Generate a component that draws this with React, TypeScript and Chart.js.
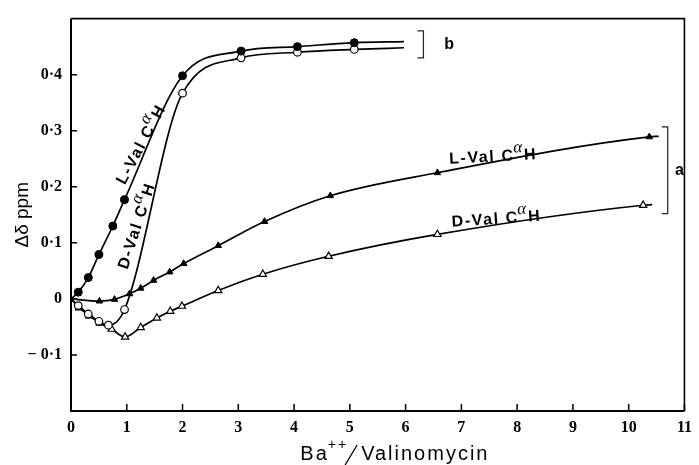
import { useEffect, useRef } from 'react';
import { Chart, registerables } from 'chart.js';

Chart.register(...registerables);

// ---- axis ticks ----
const xTickValues = [0, 1, 2, 3, 4, 5, 6, 7, 8, 9, 10, 11];
const xTickLabels = ['0', '1', '2', '3', '4', '5', '6', '7', '8', '9', '10', '11'];
const yTickValues = [-0.1, 0, 0.1, 0.2, 0.3, 0.4];
const yTickLabels = ['\u2212 0·1', '0', '0·1', '0·2', '0·3', '0·4'];

const yTitle = 'Δδ ppm';
const xTitleParts = ['Ba', '++', '/', 'Valinomycin'];

// ---- series (b: filled / open circles, a: filled / open triangles) ----
// first point = common origin, last point = end of drawn curve (no marker)
const lValBX = [0, 0.13, 0.31, 0.5, 0.75, 0.96, 2.0, 3.05, 4.06, 5.08, 5.97];
const lValBY = [0, 0.012, 0.038, 0.079, 0.13, 0.177, 0.398, 0.442, 0.45, 0.457, 0.459];

const dValBX = [0, 0.13, 0.31, 0.5, 0.67, 0.96, 2.0, 3.05, 4.06, 5.08, 5.97];
const dValBY = [0, -0.012, -0.027, -0.04, -0.047, -0.019, 0.367, 0.43, 0.44, 0.445, 0.448];

const lValAX = [0, 0.51, 0.78, 1.05, 1.25, 1.48, 1.77, 2.02, 2.64, 3.47, 4.65, 6.57, 10.37, 10.54];
const lValAY = [0, -0.004, -0.001, 0.009, 0.019, 0.033, 0.048, 0.063, 0.095, 0.138, 0.184, 0.225, 0.289, 0.29];

const dValAX = [0, 0.15, 0.33, 0.52, 0.73, 0.97, 1.25, 1.54, 1.78, 1.99, 2.64, 3.44, 4.62, 6.57, 10.26, 10.42];
const dValAY = [0, -0.016, -0.03, -0.043, -0.054, -0.068, -0.051, -0.034, -0.022, -0.013, 0.015, 0.044, 0.076, 0.115, 0.167, 0.168];

// ---- curve labels (data coordinates of label centre, angle in degrees) ----
const labelNames = ['L-Val', 'D-Val', 'L-Val', 'D-Val'];
const labelX = [1.27, 1.19, 7.58, 7.64];
const labelY = [0.276, 0.131, 0.253, 0.142];
const labelAngle = [-62, -72, -3, -4];

// ---- brackets ----
const bracketNames = ['a', 'b'];
const bracketX = [10.7, 6.32];
const bracketYTop = [0.307, 0.478];
const bracketYBottom = [0.152, 0.43];
const bracketLetterX = [10.91, 6.78];

const toPts = (xs: number[], ys: number[]) => xs.map((x, i) => ({ x, y: ys[i] }));

const markerRadius = (r: number) => (ctx: any) =>
  ctx.dataIndex === 0 || ctx.dataIndex === ctx.dataset.data.length - 1 ? 0 : r;

function drawCurveLabel(ctx: CanvasRenderingContext2D, prefix: string, cx: number, cy: number, angleDeg: number) {
  ctx.save();
  ctx.translate(cx, cy);
  ctx.rotate((angleDeg * Math.PI) / 180);
  const main = 'bold 16px "Liberation Sans", Arial, sans-serif';
  const sup = 'italic 17px "Liberation Serif", serif';
  (ctx as any).letterSpacing = '1.6px';
  ctx.font = main;
  const t1 = prefix + ' C';
  const w1 = ctx.measureText(t1).width;
  const wH = ctx.measureText('H').width;
  ctx.font = sup;
  const wa = ctx.measureText('α').width;
  const total = w1 + wa + wH;
  const x0 = -total / 2;
  ctx.fillStyle = '#000';
  ctx.textAlign = 'left';
  ctx.textBaseline = 'middle';
  ctx.font = main;
  ctx.fillText(t1, x0, 0);
  ctx.font = sup;
  ctx.fillText('α', x0 + w1 - 1, -8);
  ctx.font = main;
  ctx.fillText('H', x0 + w1 + wa - 1, 0);
  ctx.restore();
}

const decorPlugin = {
  id: 'decor',
  afterDraw(chart: any) {
    const { ctx, chartArea: a, scales } = chart;
    const xs = scales.x;
    const ys = scales.y;
    ctx.save();
    // frame
    ctx.strokeStyle = '#000';
    ctx.lineWidth = 1.6;
    ctx.beginPath();
    ctx.moveTo(a.left, a.top);
    ctx.lineTo(a.right, a.top);
    ctx.lineTo(a.right, a.bottom);
    ctx.stroke();
    ctx.lineWidth = 2;
    ctx.beginPath();
    ctx.moveTo(a.left, a.top);
    ctx.lineTo(a.left, a.bottom);
    ctx.lineTo(a.right, a.bottom);
    ctx.stroke();
    // inward ticks
    ctx.lineWidth = 1.5;
    ctx.beginPath();
    xTickValues.forEach((v) => {
      const px = xs.getPixelForValue(v);
      ctx.moveTo(px, a.bottom);
      ctx.lineTo(px, a.bottom - 7);
    });
    yTickValues.forEach((v) => {
      const py = ys.getPixelForValue(v);
      ctx.moveTo(a.left, py);
      ctx.lineTo(a.left + 6, py);
    });
    ctx.stroke();

    // curve labels
    labelNames.forEach((n, i) => {
      drawCurveLabel(ctx, n, xs.getPixelForValue(labelX[i]), ys.getPixelForValue(labelY[i]), labelAngle[i]);
    });

    // brackets
    ctx.lineWidth = 1.2;
    ctx.strokeStyle = '#222';
    bracketNames.forEach((n, i) => {
      const bx = xs.getPixelForValue(bracketX[i]);
      const t = ys.getPixelForValue(bracketYTop[i]);
      const b = ys.getPixelForValue(bracketYBottom[i]);
      ctx.beginPath();
      ctx.moveTo(bx - 6, t);
      ctx.lineTo(bx, t);
      ctx.lineTo(bx, b);
      ctx.lineTo(bx - 6, b);
      ctx.stroke();
      ctx.fillStyle = '#000';
      ctx.font = 'bold 16px "Liberation Sans", Arial, sans-serif';
      ctx.textAlign = 'center';
      ctx.textBaseline = 'middle';
      ctx.fillText(n, xs.getPixelForValue(bracketLetterX[i]), (t + b) / 2);
    });

    // x axis title: Ba++/Valinomycin
    const base = a.bottom + 49;
    const mainF = '20px "Liberation Sans", Arial, sans-serif';
    const supF = '14px "Liberation Sans", Arial, sans-serif';
    ctx.letterSpacing = '2px';
    ctx.font = mainF;
    const wBa = ctx.measureText(xTitleParts[0]).width;
    const wVal = ctx.measureText(xTitleParts[3]).width;
    ctx.font = supF;
    const wPP = ctx.measureText(xTitleParts[1]).width;
    const wSlash = 12;
    const total = wBa + wPP + wSlash + wVal;
    let x0 = a.left + (a.right - a.left) * 0.528 - total / 2;
    ctx.fillStyle = '#000';
    ctx.textAlign = 'left';
    ctx.textBaseline = 'alphabetic';
    ctx.font = mainF;
    ctx.fillText(xTitleParts[0], x0, base);
    x0 += wBa;
    ctx.font = supF;
    ctx.fillText(xTitleParts[1], x0 - 1, base - 11);
    x0 += wPP - 4;
    ctx.lineWidth = 1.3;
    ctx.strokeStyle = '#000';
    ctx.beginPath();
    ctx.moveTo(x0, base + 5);
    ctx.lineTo(x0 + 12, base - 15);
    ctx.stroke();
    x0 += wSlash + 4;
    ctx.font = mainF;
    ctx.fillText(xTitleParts[3], x0, base);
    ctx.restore();
  },
};

export default function App() {
  const canvasRef = useRef<HTMLCanvasElement | null>(null);

  useEffect(() => {
    document.body.style.margin = '0';
    const canvas = canvasRef.current;
    if (!canvas) return;
    const tickFont = { family: '"Liberation Serif", serif', size: 16, weight: 'bold' as const };
    const chart = new Chart(canvas, {
      type: 'line',
      data: {
        datasets: [
          {
            label: 'L-Val CαH (b)',
            data: toPts(lValBX, lValBY),
            borderColor: '#000',
            borderWidth: 1.7,
            pointStyle: 'circle',
            pointRadius: markerRadius(4),
            pointBackgroundColor: '#000',
            pointBorderColor: '#000',
            pointBorderWidth: 1,
            cubicInterpolationMode: 'monotone',
          },
          {
            label: 'D-Val CαH (b)',
            data: toPts(dValBX, dValBY),
            borderColor: '#000',
            borderWidth: 1.7,
            pointStyle: 'circle',
            pointRadius: markerRadius(3.8),
            pointBackgroundColor: '#fff',
            pointBorderColor: '#000',
            pointBorderWidth: 1.2,
            cubicInterpolationMode: 'monotone',
          },
          {
            label: 'L-Val CαH (a)',
            data: toPts(lValAX, lValAY),
            borderColor: '#000',
            borderWidth: 1.7,
            pointStyle: 'triangle',
            pointRadius: markerRadius(3.8),
            pointBackgroundColor: '#000',
            pointBorderColor: '#000',
            pointBorderWidth: 1,
            cubicInterpolationMode: 'monotone',
          },
          {
            label: 'D-Val CαH (a)',
            data: toPts(dValAX, dValAY),
            borderColor: '#000',
            borderWidth: 1.7,
            pointStyle: 'triangle',
            pointRadius: markerRadius(4.2),
            pointBackgroundColor: '#fff',
            pointBorderColor: '#000',
            pointBorderWidth: 1.2,
            cubicInterpolationMode: 'monotone',
          },
        ],
      },
      options: {
        responsive: false,
        animation: false,
        events: [],
        layout: { padding: { top: 12, right: 7, left: 0, bottom: 0 } },
        plugins: { legend: { display: false }, tooltip: { enabled: false } },
        scales: {
          x: {
            type: 'linear',
            min: 0,
            max: 11,
            grid: { display: false, drawTicks: false },
            border: { display: false },
            afterBuildTicks: (s: any) => {
              s.ticks = xTickValues.map((v) => ({ value: v }));
            },
            afterFit: (s: any) => {
              s.height = 54;
            },
            ticks: {
              padding: 7,
              color: '#000',
              font: tickFont,
              maxRotation: 0,
              autoSkip: false,
              callback: (v: any) => {
                const i = xTickValues.indexOf(Number(v));
                return i >= 0 ? xTickLabels[i] : '';
              },
            },
          },
          y: {
            type: 'linear',
            min: -0.2,
            max: 0.5,
            grid: { display: false, drawTicks: false },
            border: { display: false },
            afterBuildTicks: (s: any) => {
              s.ticks = yTickValues.map((v) => ({ value: v }));
            },
            afterFit: (s: any) => {
              s.width = 71;
            },
            title: {
              display: true,
              text: yTitle,
              color: '#000',
              font: { family: '"Liberation Sans", Arial, sans-serif', size: 19 },
              padding: { top: 11, bottom: 0 },
            },
            ticks: {
              padding: 9,
              color: '#000',
              font: tickFont,
              autoSkip: false,
              callback: (v: any) => {
                const i = yTickValues.findIndex((t) => Math.abs(t - Number(v)) < 1e-9);
                return i >= 0 ? yTickLabels[i] : '';
              },
            },
          },
        },
      },
      plugins: [decorPlugin],
    } as any);
    return () => chart.destroy();
  }, []);

  return (
    <div style={{ width: 699, height: 465, position: 'relative', background: '#fff' }}>
      <canvas ref={canvasRef} width={699} height={465} style={{ display: 'block' }} />
    </div>
  );
}
